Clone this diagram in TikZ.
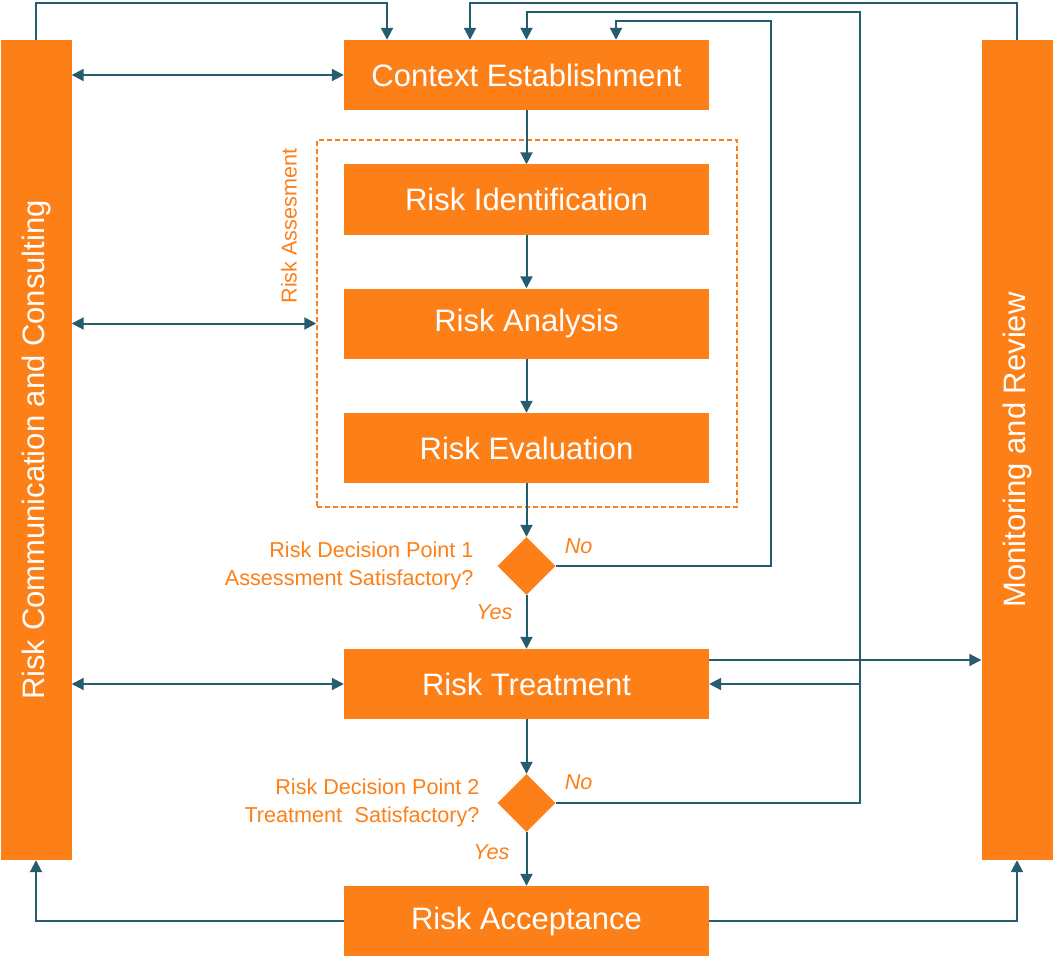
\documentclass[tikz,border=0pt]{standalone}
\usepackage{fontspec}
\setmainfont{Liberation Sans}
\usetikzlibrary{positioning,arrows.meta,shapes.geometric}
\definecolor{cRisk}{RGB}{253,127,23}
\definecolor{cLink}{RGB}{38,92,112}

\begin{document}
\begin{tikzpicture}[x=1pt,y=-1pt,
  stage/.style={fill=cRisk,text=white,minimum width=365pt,minimum height=70pt,inner sep=0pt,font=\fontsize{31}{36}\selectfont},
  bar/.style={fill=cRisk,text=white,minimum width=71pt,minimum height=820pt,inner sep=0pt,font=\fontsize{31}{36}\selectfont},
  decision/.style={diamond,fill=cRisk,minimum width=58pt,minimum height=58pt,inner sep=0pt},
  note/.style={text=cRisk,font=\fontsize{21.6}{28}\selectfont},
  answer/.style={text=cRisk,font=\fontsize{21.6}{24}\selectfont\itshape},
  link/.style={draw=cLink,line width=2pt,-{Triangle[length=12pt,width=12pt]}},
  both/.style={link,{Triangle[length=12pt,width=12pt]}-{Triangle[length=12pt,width=12pt]}}]
  \useasboundingbox (0,0) rectangle (1054,960);
  % side bars
  \node[bar] (comm) at (36,450) {\rotatebox{90}{Risk Communication and Consulting}};
  \node[bar] (monitor) at (1017,450) {\rotatebox{90}{Monitoring and Review}};
  % process steps
  \foreach \n/\y/\t in {ctx/75/Context Establishment, ident/199.5/Risk Identification,
      anal/323.5/Risk Analysis, eval/448/Risk Evaluation, treat/684/Risk Treatment,
      accept/921/Risk Acceptance}
    \node[stage] (\n) at (526.5,\y) {\t};
  \node[draw=cRisk,line width=1.5pt,dash pattern=on 5pt off 3pt,minimum width=420pt,minimum height=367pt,inner sep=0pt] (assess) at (527,323.5) {};
  \node[note,rotate=90] (assesslbl) at (289,226) {Risk Assesment};
  % decisions
  \node[decision] (dec1) at (526.5,566) {};
  \node[decision] (dec2) at (526.5,803) {};
  \node[note,align=right,anchor=east] (q1) at (477,566) {Risk Decision Point 1\\Assessment Satisfactory?};
  \node[note,align=right,anchor=east] (q2) at (483,803) {Risk Decision Point 2\\Treatment\hspace{0.3em} Satisfactory?};
  \node[answer] (no1) at ([xshift=23pt,yshift=20pt]dec1.east) {No};
  \node[answer] (yes1) at ([xshift=-32pt,yshift=-17pt]dec1.south) {Yes};
  \node[answer] (no2) at ([xshift=23pt,yshift=21pt]dec2.east) {No};
  \node[answer] (yes2) at ([xshift=-35pt,yshift=-20pt]dec2.south) {Yes};
  % main flow
  \foreach \a/\b in {ctx/ident,ident/anal,anal/eval,eval/dec1,dec1/treat,treat/dec2,dec2/accept}
    \draw[link] (\a) -- (\b);
  % feedback loops
  \coordinate (topA) at (387,3);
  \coordinate (topB) at (470,3);
  \coordinate (noA) at (771,21);
  \coordinate (backA) at (616,21);
  \coordinate (noB) at (860,12);
  \coordinate (backB) at (526.5,12);
  \draw[link] (comm.north) |- (topA) -- (topA |- ctx.north);
  \draw[link] (monitor.north) |- (topB) -- (topB |- ctx.north);
  \draw[link] (dec1.east) -| (noA) -- (backA) -- (backA |- ctx.north);
  \draw[link] (dec2.east) -| (noB) -- (backB) -- (ctx.north);
  \draw[link] (noB |- treat.east) -- (treat.east);
  \coordinate (treatout) at ([yshift=24pt]treat.east);
  \draw[link] (treatout) -- (treatout -| monitor.west);
  % communication
  \draw[both] (comm.east |- ctx.west) -- (ctx.west);
  \draw[both] (comm.east |- assess.west) -- (assess.west);
  \draw[both] (comm.east |- treat.west) -- (treat.west);
  \draw[link] (accept.west) -| (comm.south);
  \draw[link] (accept.east) -| (monitor.south);
\end{tikzpicture}
\end{document}
